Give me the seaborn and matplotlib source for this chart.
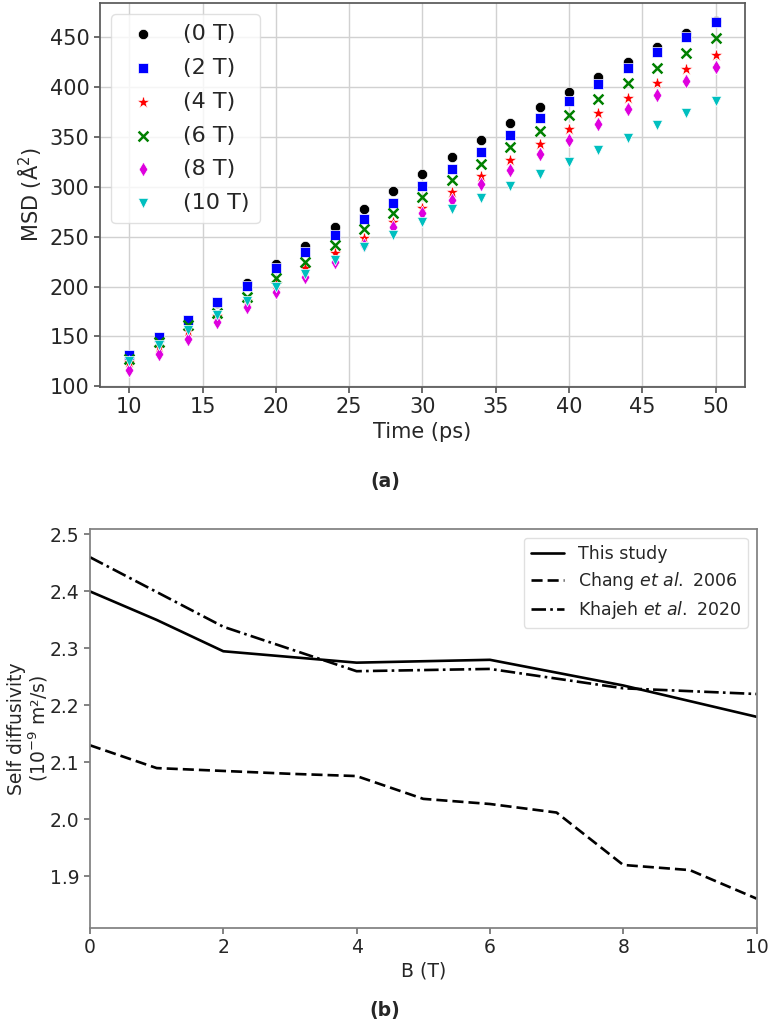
import matplotlib
matplotlib.use("Agg")
import matplotlib.pyplot as plt
import seaborn as sns
import pandas as pd

# (a) MSD vs time, one series per field strength
tempo = [10, 12, 14, 16, 18, 20, 22, 24, 26, 28, 30, 32, 34, 36, 38, 40, 42, 44, 46, 48, 50]
msd_0T = [130, 148, 165, 183, 204, 222.7, 241, 259.4, 277.4, 295.5, 313, 330, 347.4, 364, 380, 395, 410.7, 425.7, 440, 454, 467]
msd_2T = [131, 149, 166.5, 184, 201, 218.4, 234.5, 251.7, 268, 284.2, 301.3, 318.4, 335, 351.7, 369, 386.7, 403.4, 419, 435, 450.7, 466]
msd_4T = [124, 139, 155, 170, 185, 203, 218.4, 233.4, 248.4, 264.5, 279, 295, 311, 326.7, 342.7, 358.4, 374.4, 389.4, 404, 418.4, 432.7]
msd_6T = [127, 144, 161, 173.4, 190, 208.4, 225, 241.7, 257.4, 274.2, 290, 306.7, 323.4, 340, 356, 372.4, 388.4, 404, 419.4, 434.4, 449.4]
msd_8T = [116.7, 132.7, 147.7, 164, 179.4, 195, 209.4, 225, 242, 259.5, 273.4, 286.7, 302.7, 317.4, 332.7, 347.4, 363.4, 377.7, 392.4, 406.7, 420.7]
msd_10T = [125, 141.7, 156.7, 171.7, 186, 200, 212.7, 226.7, 239.4, 252.2, 265, 277.4, 289, 300.7, 313.4, 325, 336.7, 349.4, 361.7, 374, 386.7]

rotulos_a = ["(0 T)", "(2 T)", "(4 T)", "(6 T)", "(8 T)", "(10 T)"]
series_a = [msd_0T, msd_2T, msd_4T, msd_6T, msd_8T, msd_10T]
# cores "clássicas" do matplotlib (k, b, r, g, m, c)
cores_a = [(0, 0, 0), (0, 0, 1), (1, 0, 0), (0, 0.5, 0), (0.87, 0, 0.87), (0, 0.75, 0.75)]
marcadores_a = ["o", "s", "*", "x", "d", "v"]

# (b) self diffusivity vs B
campo_estudo = [0, 1, 2, 4, 6, 8, 10]
difus_estudo = [2.40, 2.35, 2.295, 2.275, 2.28, 2.235, 2.18]
campo_chang = [0, 1, 2, 3, 4, 5, 6, 7, 8, 9, 10]
difus_chang = [2.13, 2.09, 2.085, 2.08, 2.076, 2.036, 2.027, 2.012, 1.92, 1.911, 1.861]
campo_khajeh = [0, 2, 4, 6, 8, 10]
difus_khajeh = [2.46, 2.338, 2.26, 2.264, 2.23, 2.22]

rotulos_b = ["This study", "Chang $\\it{et\\ al.}$ 2006", "Khajeh $\\it{et\\ al.}$ 2020"]

sns.set_theme(style="ticks")
plt.rcParams["font.family"] = ["DejaVu Sans"]

fig = plt.figure(figsize=(7.7, 10.23), dpi=100)
ax1 = fig.add_axes([0.1299, 0.6217, 0.8376, 0.3753])
ax2 = fig.add_axes([0.1169, 0.0932, 0.8656, 0.3894])

# painel (a)
for rot, vals, cor, mk in zip(rotulos_a, series_a, cores_a, marcadores_a):
    df = pd.DataFrame({"Time": tempo, "MSD": vals})
    if mk == "x":
        sns.scatterplot(data=df, x="Time", y="MSD", color=cor, marker=mk, s=50,
                        linewidth=1.8, label=rot, ax=ax1, zorder=3)
    else:
        tam = 95 if mk == "*" else 55
        sns.scatterplot(data=df, x="Time", y="MSD", color=cor, marker=mk, s=tam,
                        linewidth=0.5, label=rot, ax=ax1, zorder=3)

ax1.set_xlabel("Time (ps)", fontsize=15, labelpad=3)
ax1.set_ylabel("MSD (Å$^2$)", fontsize=15)
ax1.set_xticks([10, 15, 20, 25, 30, 35, 40, 45, 50])
ax1.set_yticks([100, 150, 200, 250, 300, 350, 400, 450])
ax1.tick_params(labelsize=15, length=4, color="0.35")
ax1.grid(True, color="0.82", linewidth=1)
ax1.set_axisbelow(True)
for sp in ax1.spines.values():
    sp.set_color("0.35")
leg1 = ax1.legend(loc="upper left", fontsize=16, handletextpad=0.8, borderpad=0.45,
                  labelspacing=0.62, borderaxespad=0.5)
leg1.get_frame().set_edgecolor("0.85")

# painel (b)
df_b = pd.concat([
    pd.DataFrame({"B": campo_estudo, "D": difus_estudo, "Fonte": rotulos_b[0]}),
    pd.DataFrame({"B": campo_chang, "D": difus_chang, "Fonte": rotulos_b[1]}),
    pd.DataFrame({"B": campo_khajeh, "D": difus_khajeh, "Fonte": rotulos_b[2]}),
])
estilos = {rotulos_b[0]: "", rotulos_b[1]: (4.2, 1.9), rotulos_b[2]: (5.5, 1.6, 1, 1.6)}
sns.lineplot(data=df_b, x="B", y="D", style="Fonte", dashes=estilos, color="black",
             linewidth=1.9, ax=ax2, sort=False)

ax2.set_xlim(0, 10)
ax2.set_ylim(1.81, 2.509)
ax2.set_xticks([0, 2, 4, 6, 8, 10])
ax2.set_yticks([1.9, 2.0, 2.1, 2.2, 2.3, 2.4, 2.5])
ax2.set_xlabel("B (T)", fontsize=13.5, labelpad=3)
ax2.set_ylabel("Self diffusivity\n(10$^{-9}$ m²/s)", fontsize=13.5, labelpad=0,
               linespacing=1.0)
ax2.tick_params(labelsize=13.5, length=4, color="0.45")
for sp in ax2.spines.values():
    sp.set_color("0.5")
leg2 = ax2.legend(loc="upper right", fontsize=12.5, title=None, handlelength=1.9,
                  labelspacing=0.4, handletextpad=0.8)
leg2.get_frame().set_edgecolor("0.85")

fig.text(0.5, 0.529, "(a)", ha="center", va="center", fontsize=13.5, fontweight="bold")
fig.text(0.5, 0.0127, "(b)", ha="center", va="center", fontsize=13.5, fontweight="bold")

fig.savefig("out.png", dpi=100)
